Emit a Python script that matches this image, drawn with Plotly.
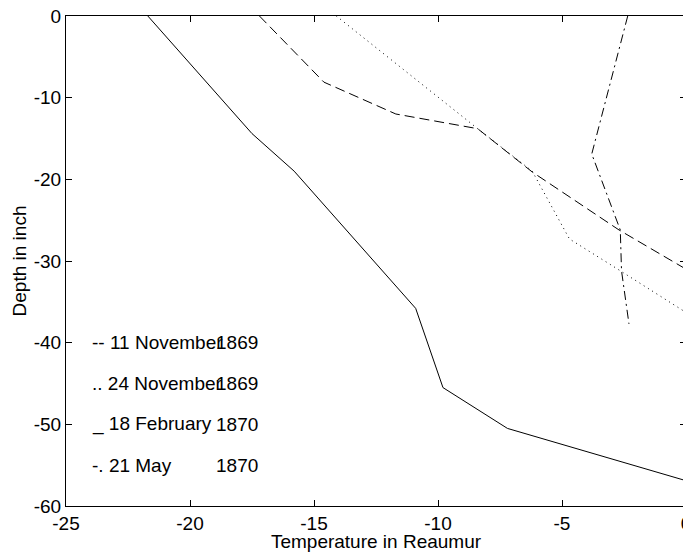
import plotly.graph_objects as go

# Series: temperature (Reaumur) vs depth (inch)
nov11_temp = [-17.2, -14.6, -11.7, -8.4, -6.2, -2.7, 0.0]
nov11_depth = [0.0, -8.1, -12.0, -13.8, -19.1, -26.2, -31.0]

nov24_temp = [-14.1, -8.4, -6.2, -4.7, -2.7, 0.0]
nov24_depth = [0.0, -13.8, -19.0, -27.3, -31.1, -36.3]

feb18_temp = [-21.7, -17.5, -15.8, -10.9, -9.8, -7.2, 0.0]
feb18_depth = [0.0, -14.4, -19.0, -35.8, -45.5, -50.5, -56.9]

may21_temp = [-2.35, -3.8, -2.65, -2.6, -2.3]
may21_depth = [0.0, -16.9, -26.2, -31.2, -37.7]

# In-plot legend text
legend_labels = ["-- 11 November", ".. 24 November", "_ 18 February", "-. 21 May"]
legend_years = ["1869", "1869", "1870", "1870"]
legend_y = [-40, -45, -50, -55]
legend_x_label = -24
legend_x_year = -19

x_ticks = [-25, -20, -15, -10, -5, 0]
y_ticks = [-60, -50, -40, -30, -20, -10, 0]

FONT = "Liberation Sans, Arial, sans-serif"
FS = 19

fig = go.Figure()
series = [
    (nov11_temp, nov11_depth, "10px,5px", "11 November 1869"),
    (nov24_temp, nov24_depth, "1px,4px", "24 November 1869"),
    (feb18_temp, feb18_depth, "solid", "18 February 1870"),
    (may21_temp, may21_depth, "9px,4px,2px,4px", "21 May 1870"),
]
for xs, ys, dash, name in series:
    fig.add_trace(go.Scatter(x=xs, y=ys, mode="lines", name=name,
                             line=dict(color="black", width=1, dash=dash),
                             showlegend=False))

annotations = []
for lab, yr, yy in zip(legend_labels, legend_years, legend_y):
    annotations.append(dict(x=legend_x_label, y=yy, text=lab, xanchor="left",
                            yanchor="middle", showarrow=False, borderpad=0,
                            font=dict(family=FONT, size=FS, color="black")))
    annotations.append(dict(x=legend_x_year, y=yy, text=yr, xanchor="left",
                            yanchor="middle", showarrow=False, borderpad=0,
                            font=dict(family=FONT, size=FS, color="black")))

axis_common = dict(showgrid=False, zeroline=False, showline=True, linecolor="black",
                   linewidth=1, mirror="allticks", ticks="inside", ticklen=6,
                   tickcolor="black", tickwidth=1, ticklabeloverflow="allow",
                   automargin=False,
                   tickfont=dict(family=FONT, size=FS, color="black"))

fig.update_layout(
    width=683, height=544, autosize=False,
    margin=dict(l=58, r=5, t=7.5, b=46),
    paper_bgcolor="white", plot_bgcolor="white",
    font=dict(family=FONT, size=FS, color="black"),
    xaxis=dict(range=[-25, 0], tickvals=x_ticks, ticktext=[str(v) for v in x_ticks],
               title=dict(text="Temperature in Reaumur", standoff=6,
                          font=dict(family=FONT, size=FS)),
               **axis_common),
    yaxis=dict(range=[-60, 0], tickvals=y_ticks, ticktext=[str(v) for v in y_ticks],
               title=dict(text="Depth in inch", standoff=2,
                          font=dict(family=FONT, size=FS)),
               **axis_common),
    annotations=annotations,
)

fig.write_html("out.html")
